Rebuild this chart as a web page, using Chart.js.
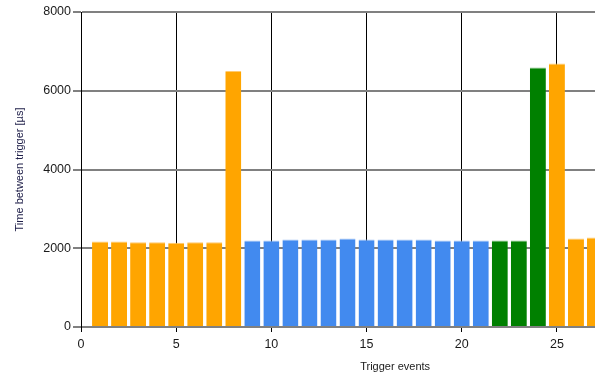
<!DOCTYPE html>
<html>
<head>
<meta charset="utf-8">
<script src="https://cdn.jsdelivr.net/npm/chart.js@4/dist/chart.umd.min.js"></script>
<style>
  html, body { margin: 0; padding: 0; background: #ffffff; overflow: hidden; }
  #wrap { width: 595px; height: 380px; position: relative; }
</style>
</head>
<body>
<div id="wrap"><canvas id="c" width="595" height="380"></canvas></div>
<script>
// ---- data ----
const triggerEvents = [1, 2, 3, 4, 5, 6, 7, 8, 9, 10, 11, 12, 13, 14, 15, 16, 17, 18, 19, 20, 21, 22, 23, 24, 25, 26, 27];
const timeBetween = [2170, 2170, 2150, 2150, 2140, 2150, 2150, 6500, 2200, 2200, 2220, 2220, 2220, 2250, 2220, 2220, 2220, 2220, 2200, 2200, 2200, 2200, 2200, 6590, 6690, 2250, 2270];
const barGroup = ['o','o','o','o','o','o','o','o','b','b','b','b','b','b','b','b','b','b','b','b','b','g','g','g','o','o','o'];
const xTicks = [0, 5, 10, 15, 20, 25];
const yTicks = [0, 2000, 4000, 6000, 8000];
const yTitle = 'Time between trigger [µs]';
const xTitle = 'Trigger events';

// ---- styles ----
const fillColors = { o: '#FFA500', b: '#428AEF', g: '#008000' };
const edgeColors = { o: '#FFCB70', b: '#A2C3F4', g: '#7FBF7F' };
const FONT = '"Liberation Sans", Arial, sans-serif';

const xTitlePlugin = {
  id: 'xTitlePlugin',
  afterDraw(chart) {
    const ctx = chart.ctx;
    const xs = chart.scales.x;
    ctx.save();
    ctx.font = '11px ' + FONT;
    ctx.fillStyle = '#1a1a1a';
    ctx.textAlign = 'center';
    ctx.textBaseline = 'middle';
    ctx.fillText(xTitle, xs.getPixelForValue(16.5), 367);
    ctx.restore();
  }
};

new Chart(document.getElementById('c'), {
  type: 'bar',
  data: {
    datasets: [{
      data: triggerEvents.map((e, i) => ({ x: e, y: timeBetween[i] })),
      backgroundColor: barGroup.map(g => fillColors[g]),
      borderColor: barGroup.map(g => edgeColors[g]),
      borderWidth: { top: 1, left: 0, right: 0, bottom: 0 },
      borderSkipped: false,
      barPercentage: 0.84,
      categoryPercentage: 1.0
    }]
  },
  options: {
    responsive: false,
    animation: false,
    layout: { padding: { top: 12, right: 0, left: 0, bottom: 0 } },
    plugins: { legend: { display: false }, tooltip: { enabled: false } },
    scales: {
      x: {
        type: 'linear',
        min: 0,
        max: 27,
        offset: false,
        afterFit(s) { s.height = 53; },
        afterBuildTicks(s) { s.ticks = xTicks.map(v => ({ value: v })); },
        ticks: { includeBounds: false, color: '#1a1a1a', font: { family: FONT, size: 12.5 }, padding: 5, maxRotation: 0, callback: v => String(v) },
        grid: { offset: false, color: '#000000', lineWidth: 1, tickLength: 5, tickColor: '#000000', drawOnChartArea: true },
        border: { display: true, color: '#808080', width: 2 }
      },
      y: {
        min: 0,
        max: 8000,
        afterFit(s) { s.width = 81; },
        afterBuildTicks(s) { s.ticks = yTicks.map(v => ({ value: v })); },
        ticks: { color: '#1a1a1a', font: { family: FONT, size: 12.5 }, padding: 2, callback: v => String(v) },
        grid: { color: '#808080', lineWidth: 2, tickLength: 8, tickColor: '#808080' },
        border: { display: true, color: '#000000', width: 1 },
        title: { display: true, text: yTitle, color: '#20204a', font: { family: FONT, size: 11 }, padding: { top: 13, bottom: 0 } }
      }
    }
  },
  plugins: [xTitlePlugin]
});
</script>
</body>
</html>
